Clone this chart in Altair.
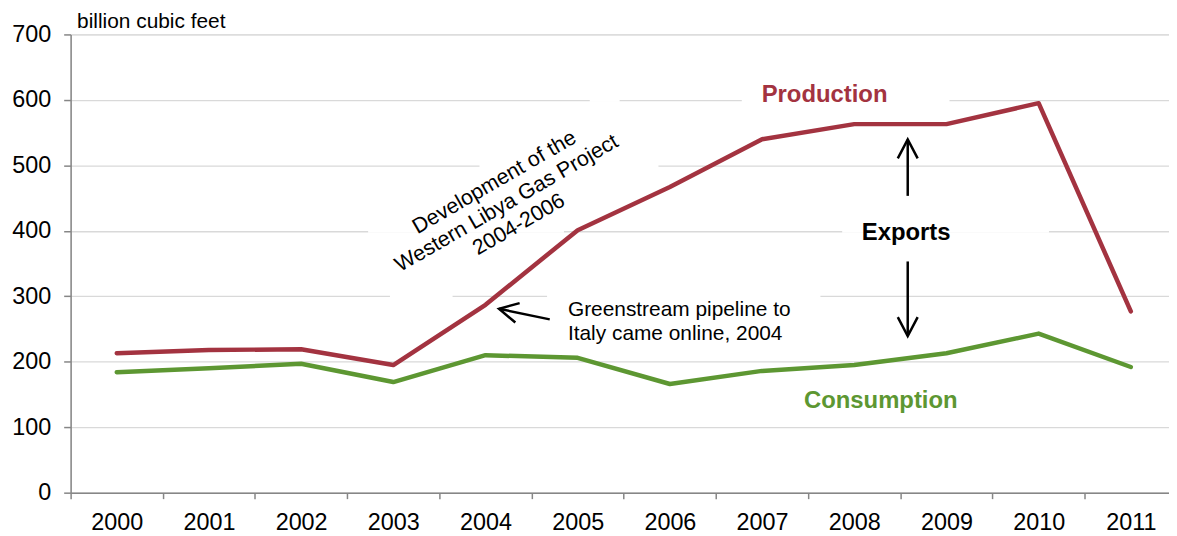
import altair as alt
import pandas as pd

# ---- data ----
years = list(range(2000, 2012))
production = [213, 218, 219, 195, 287, 401, 467, 540, 563, 563, 595, 277]
consumption = [184, 190, 197, 169, 210, 206, 166, 186, 195, 213, 243, 192]

series_names = ["Production", "Consumption"]
series_colors = ["#A33340", "#5D9732"]

y_ticks = [0, 100, 200, 300, 400, 500, 600, 700]
x_tick_edges = [1999.5 + i for i in range(12)]
x_domain = [1999.5, 2011.414]

# annotation texts (placed in data coordinates)
label_text = ["Production", "Exports", "Consumption"]
label_x = [2007.678, 2008.563, 2008.288]
label_y = [607.8, 396.7, 140.6]
label_color = ["#A33340", "#000000", "#5D9732"]

note_lines = ["Greenstream pipeline to", "Italy came online, 2004"]
note_x = [2004.894, 2004.894]
note_y = [278.3, 241.9]

rot_text = "Development of the\nWestern Libya Gas Project\n2004-2006"
rot_x = [2004.10]
rot_y = [473.5]

# arrows: shaft from (x1, y1) to tip (x2, y2); head angle
arrow_x1 = [2008.58, 2008.58, 2004.697]
arrow_y1 = [453.4, 353.2, 264.7]
arrow_x2 = [2008.58, 2008.58, 2004.147]
arrow_y2 = [539.5, 239.3, 280.9]
arrow_angle = [0, 180, 282.4]

# white breaks in the gridlines behind the annotation texts
gap_y = [600, 600, 500, 400, 400, 300, 300]
gap_x1 = [2005.131, 2006.780, 2003.935, 2002.727, 2007.869, 2002.964, 2004.668]
gap_x2 = [2005.455, 2009.033, 2005.876, 2004.851, 2010.112, 2003.643, 2007.633]

FONT = "Liberation Sans"
W, H = 1105, 461

lines_df = pd.DataFrame(
    {
        "year": years * 2,
        "value": production + consumption,
        "series": ["Production"] * len(years) + ["Consumption"] * len(years),
    }
)
labels_df = pd.DataFrame({"text": label_text, "x": label_x, "y": label_y, "color": label_color})
notes_df = pd.DataFrame({"text": note_lines, "x": note_x, "y": note_y})
rot_df = pd.DataFrame({"text": [rot_text], "x": rot_x, "y": rot_y})
arrows_df = pd.DataFrame(
    {"x1": arrow_x1, "y1": arrow_y1, "x2": arrow_x2, "y2": arrow_y2, "angle": arrow_angle}
)
gaps_df = pd.DataFrame({"y": gap_y, "x1": gap_x1, "x2": gap_x2})

xscale = alt.Scale(domain=x_domain, nice=False, zero=False)
yscale = alt.Scale(domain=[0, 700], nice=False)

x_axis = alt.Axis(
    values=x_tick_edges,
    labelExpr="format(datum.value + 0.5, 'd')",
    labelOffset=46.4,
    labelFlush=False,
    labelAlign="center",
    tickSize=6,
    labelPadding=12,
    grid=False,
    title=None,
    domainColor="#868686",
    tickColor="#868686",
    domainWidth=1.5,
    tickWidth=1.5,
    labelFont=FONT,
    labelFontSize=23.5,
    labelColor="#000000",
)
y_axis = alt.Axis(
    values=y_ticks,
    grid=True,
    gridColor="#D9D9D9",
    gridWidth=1.3,
    tickSize=7,
    labelPadding=13,
    domainColor="#868686",
    tickColor="#868686",
    domainWidth=1.5,
    tickWidth=1.5,
    labelFont=FONT,
    labelFontSize=23.5,
    labelColor="#000000",
    title="billion cubic feet",
    titleAngle=0,
    titleAlign="left",
    titleBaseline="alphabetic",
    titleX=6,
    titleY=-7,
    titleFont=FONT,
    titleFontSize=21,
    titleFontWeight="normal",
    titleColor="#000000",
)

base_lines = alt.Chart(lines_df).mark_line(
    strokeWidth=4.5, strokeCap="round", strokeJoin="round"
).encode(
    x=alt.X("year:Q", scale=xscale, axis=x_axis),
    y=alt.Y("value:Q", scale=yscale, axis=y_axis),
    color=alt.Color(
        "series:N",
        scale=alt.Scale(domain=series_names, range=series_colors),
        legend=None,
    ),
    detail="series:N",
)

gaps = alt.Chart(gaps_df).mark_rule(color="white", strokeWidth=4).encode(
    x=alt.X("x1:Q", scale=xscale),
    x2="x2:Q",
    y=alt.Y("y:Q", scale=yscale),
)

labels = alt.Chart(labels_df).mark_text(
    font=FONT, fontSize=24, fontWeight="bold", align="center", baseline="middle"
).encode(
    x=alt.X("x:Q", scale=xscale),
    y=alt.Y("y:Q", scale=yscale),
    text="text:N",
    color=alt.Color("color:N", scale=None),
)

notes = alt.Chart(notes_df).mark_text(
    font=FONT, fontSize=21, align="left", baseline="middle", color="#000000"
).encode(
    x=alt.X("x:Q", scale=xscale),
    y=alt.Y("y:Q", scale=yscale),
    text="text:N",
)

rot = alt.Chart(rot_df).mark_text(
    font=FONT,
    fontSize=21.5,
    align="center",
    baseline="middle",
    angle=330,
    lineBreak="\n",
    lineHeight=24.5,
    color="#000000",
).encode(
    x=alt.X("x:Q", scale=xscale),
    y=alt.Y("y:Q", scale=yscale),
    text="text:N",
)

shafts = alt.Chart(arrows_df).mark_rule(color="#000000", strokeWidth=2.5).encode(
    x=alt.X("x1:Q", scale=xscale),
    x2="x2:Q",
    y=alt.Y("y1:Q", scale=yscale),
    y2="y2:Q",
)

heads = alt.Chart(arrows_df).mark_point(
    shape="M-1,1.9L0,0L1,1.9",
    filled=False,
    stroke="#000000",
    strokeWidth=2.5,
    size=400,
    opacity=1,
).encode(
    x=alt.X("x2:Q", scale=xscale),
    y=alt.Y("y2:Q", scale=yscale),
    angle=alt.Angle("angle:Q", scale=None),
)

chart = (
    alt.layer(gaps, base_lines, shafts, heads, labels, notes, rot)
    .properties(
        width=W,
        height=H,
        autosize=alt.AutoSizeParams(type="none"),
        padding={"left": 63, "top": 25, "right": 0, "bottom": 42},
    )
    .configure_view(stroke=None)
    .configure(background="white")
)

chart.save("out.html", embed_options={"renderer": "svg", "actions": False})
